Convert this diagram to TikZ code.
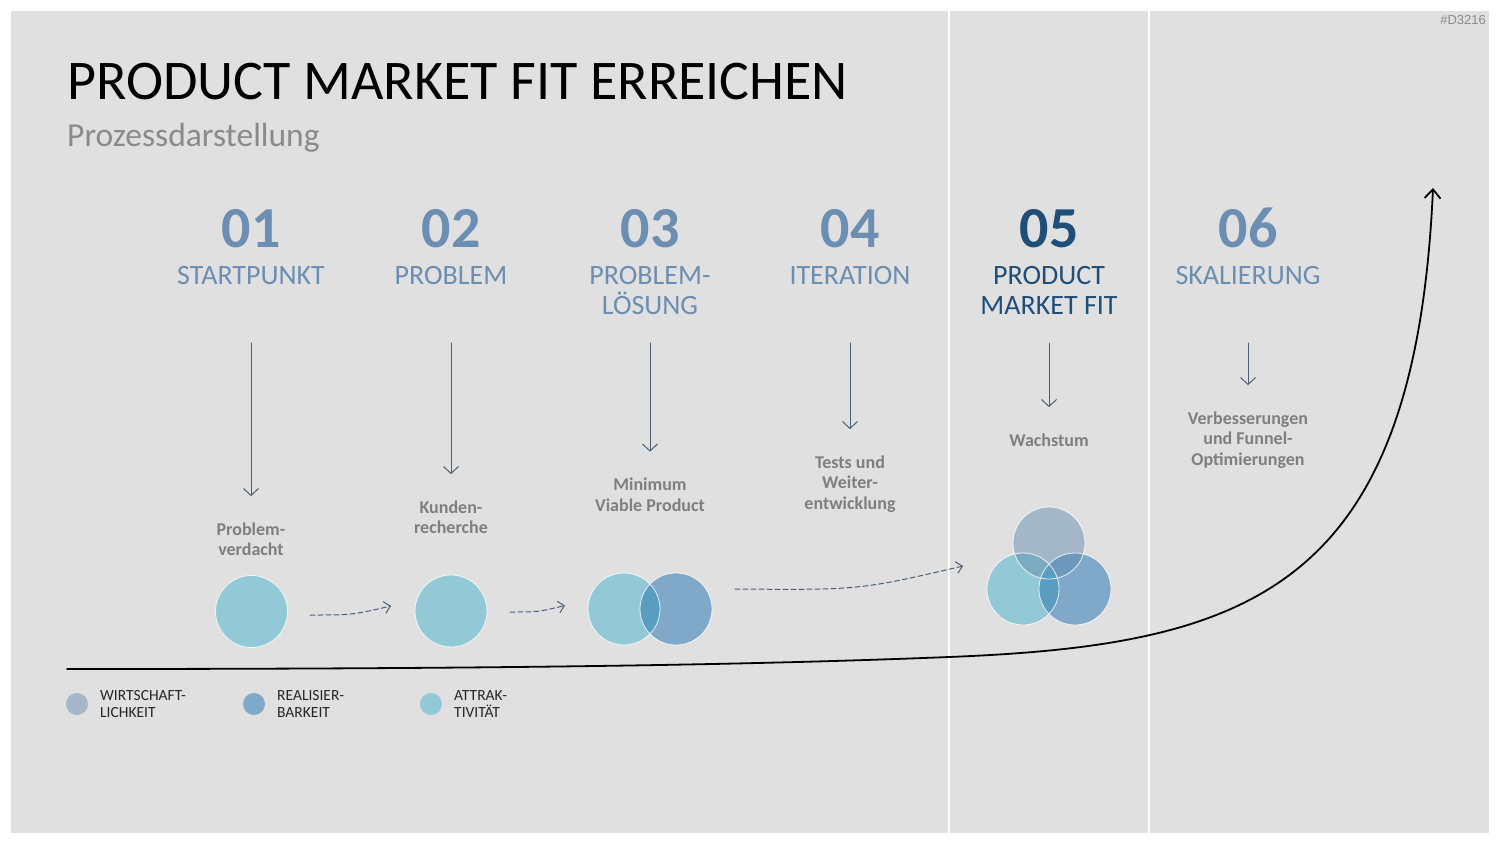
\documentclass[tikz,border=0pt]{standalone}
\usepackage{fontspec}
\setmainfont{Carlito}
\newfontfamily\tagfont{Liberation Sans}
\usetikzlibrary{arrows.meta}

\definecolor{slidebg}{HTML}{E0E0E0}
\definecolor{numblue}{HTML}{6C8EB2}
\definecolor{numdark}{HTML}{1F4E79}
\definecolor{labgray}{HTML}{7F7F7F}
\definecolor{subgray}{HTML}{8A8A8A}
\definecolor{legdark}{HTML}{262626}
\definecolor{arrslate}{HTML}{4F5F73}
\definecolor{attrak}{HTML}{93C9D6}
\definecolor{realis}{HTML}{80A8C9}
\definecolor{wirt}{HTML}{A4B7C9}
\definecolor{ovAR}{HTML}{5B9DC1}
\definecolor{ovWA}{HTML}{7CAAC1}
\definecolor{ovWR}{HTML}{6E98BB}

\tikzset{
  stepnum/.style={font=\fontsize{58}{58}\selectfont\bfseries, inner sep=0, anchor=base},
  stephead/.style={font=\fontsize{28}{30}\selectfont, align=center, inner sep=0, anchor=base},
  steplabel/.style={font=\fontsize{18}{20.5}\selectfont\bfseries, text=labgray, align=center, inner sep=0, anchor=base},
  legtext/.style={font=\fontsize{15.5}{17}\selectfont, text=legdark, align=left, inner sep=0, anchor=base west},
  downarrow/.style={draw=arrslate, line width=1pt, -{Straight Barb[length=7pt,width=15pt]}},
  flowarrow/.style={draw=arrslate, line width=1pt, dash pattern=on 5pt off 3pt, -{Straight Barb[length=6pt,width=12pt]}},
  growth/.style={draw=black, line width=1.8pt, -{Straight Barb[length=9pt,width=16pt]}},
  ring/.style={draw=white, line width=0.8pt, draw opacity=0.8},
}

\begin{document}
\begin{tikzpicture}[x=1pt, y=-1pt, line cap=round, line join=round]
  \useasboundingbox (0,0) rectangle (1500,844);
  % Slide background.
  \fill[white] (0,0) rectangle (1500,844);
  \fill[slidebg] (11,11) rectangle (1489,833);
  \draw[white, line width=2pt] (949,11) -- (949,833);
  \draw[white, line width=2pt] (1149,11) -- (1149,833);

  % Title block.
  \node[anchor=base west, inner sep=0, font=\fontsize{56}{56}\selectfont] (title) at (67,99.5) {PRODUCT MARKET FIT ERREICHEN};
  \node[anchor=base west, inner sep=0, text=subgray, font=\fontsize{33.5}{33.5}\selectfont] (subtitle) at (67,146.7) {Prozessdarstellung};
  \node[anchor=base east, inner sep=0, text=subgray, font=\tagfont\fontsize{13}{13}\selectfont] (tag) at (1486,24) {\#D3216};

  % Six steps (y values are baselines of the last line).
  \foreach \x/\num/\head/\hy/\lab/\ly/\col [count=\i] in {
      251/01/STARTPUNKT/284.5/{Problem-\\verdacht}/555.5/numblue,
      451/02/PROBLEM/284.5/{Kunden-\\recherche}/533.5/numblue,
      650/03/{PROBLEM-\\LÖSUNG}/314.5/{Minimum\\Viable Product}/511/numblue,
      850/04/ITERATION/284.5/{Tests und\\Weiter-\\entwicklung}/509/numblue,
      1049/05/{PRODUCT\\MARKET FIT}/314.5/Wachstum/446/numdark,
      1248/06/SKALIERUNG/284.5/{Verbesserungen\\und Funnel-\\Optimierungen}/465/numblue} {
    \node[stepnum, text=\col] (num\i) at (\x,247.5) {\num};
    \node[stephead, text=\col] (head\i) at (\x,\hy) {\head};
    \node[steplabel] (lab\i) at (\x,\ly) {\lab};
    \coordinate (top\i) at (\x,343);
    \draw[downarrow, shorten >=26pt] (top\i) -- (lab\i.north);
  }

  % Circle centres.
  \coordinate (c1) at (251.5,611.5);
  \coordinate (c2) at (451,611);
  \coordinate (c3a) at (624,609);
  \coordinate (c3b) at (676,609);
  \coordinate (c5w) at (1049,543);
  \coordinate (c5a) at (1023,589);
  \coordinate (c5r) at (1075,589);

  % Single circles.
  \fill[attrak] (c1) circle (36);
  \fill[attrak] (c2) circle (36);
  \draw[ring] (c1) circle (36) (c2) circle (36);

  % Two circles.
  \fill[attrak] (c3a) circle (36);
  \fill[realis] (c3b) circle (36);
  \begin{scope}
    \clip (c3a) circle (36);
    \fill[ovAR] (c3b) circle (36);
  \end{scope}
  \draw[ring] (c3a) circle (36) (c3b) circle (36);

  % Three circles.
  \fill[wirt] (c5w) circle (36);
  \fill[attrak] (c5a) circle (36);
  \fill[realis] (c5r) circle (36);
  \begin{scope}
    \clip (c5w) circle (36);
    \fill[ovWA] (c5a) circle (36);
    \fill[ovWR] (c5r) circle (36);
  \end{scope}
  \begin{scope}
    \clip (c5a) circle (36);
    \fill[ovAR] (c5r) circle (36);
  \end{scope}
  \draw[ring] (c5w) circle (36) (c5a) circle (36) (c5r) circle (36);

  % Dashed flow arrows.
  \coordinate (f1s) at (310,615);
  \coordinate (f1e) at (391,606);
  \coordinate (f2s) at (510,612);
  \coordinate (f2e) at (565,605.5);
  \coordinate (f3s) at (735,589);
  \coordinate (f3e) at (963,566);
  \draw[flowarrow] (f1s) .. controls (352,615) .. (f1e);
  \draw[flowarrow] (f2s) .. controls (538,612) .. (f2e);
  \draw[flowarrow] (f3s) .. controls (860,590) .. (f3e);

  % Growth curve.
  \coordinate (g0) at (67,669);
  \coordinate (g1) at (949,657);
  \coordinate (g2) at (1433,188);
  \draw[growth] (g0) .. controls (500,669) and (749,665) .. (g1)
    .. controls (1250,645) and (1415,590) .. (g2);

  % Legend.
  \fill[wirt] (77,704) circle (11);
  \fill[realis] (254,704) circle (11);
  \fill[attrak] (431,704) circle (11);
  \node[legtext] (leg1) at (100,717.5) {WIRTSCHAFT-\\LICHKEIT};
  \node[legtext] (leg2) at (277,717.5) {REALISIER-\\BARKEIT};
  \node[legtext] (leg3) at (454,717.5) {ATTRAK-\\TIVITÄT};
\end{tikzpicture}
\end{document}
